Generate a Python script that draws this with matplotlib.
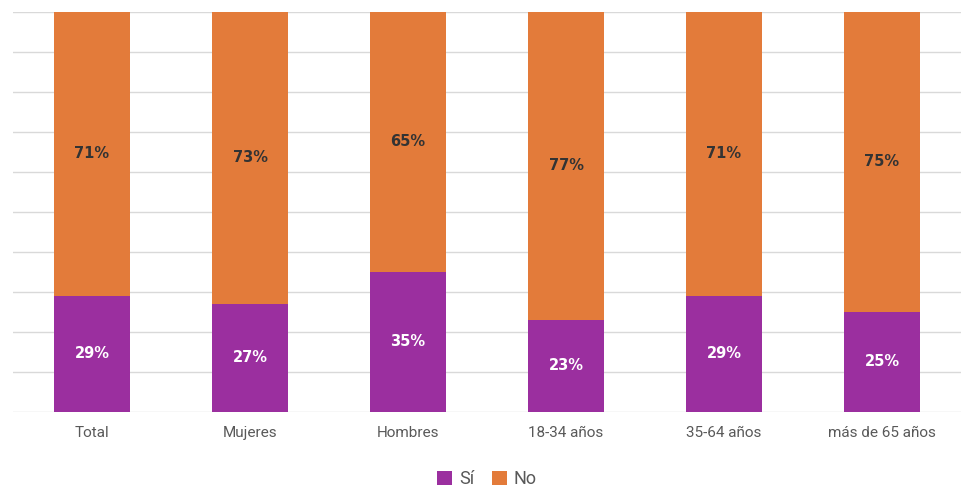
import numpy as np
import matplotlib.pyplot as plt

categorias = ["Total", "Mujeres", "Hombres", "18-34 años", "35-64 años", "más de 65 años"]
si = [29, 27, 35, 23, 29, 25]
no = [71, 73, 65, 77, 71, 75]

color_si = "#9B2F9F"
color_no = "#E37B3A"

fig = plt.figure(figsize=(9.66, 4.92), dpi=100)
ax = fig.add_axes([13 / 966, 80 / 492, 948 / 966, 400 / 492])

x = np.arange(len(categorias))
ancho = 0.475
b1 = ax.bar(x, si, ancho, color=color_si, label="Sí", zorder=2)
b2 = ax.bar(x, no, ancho, bottom=si, color=color_no, label="No", zorder=2)

# etiquetas de porcentaje dentro de cada tramo
for rect, v in zip(b1, si):
    ax.text(rect.get_x() + rect.get_width() / 2, v / 2, f"{v}%", ha="center", va="center",
            color="white", fontsize=10.5, fontweight="bold", family="DejaVu Sans")
for rect, s, v in zip(b2, si, no):
    ax.text(rect.get_x() + rect.get_width() / 2, s + v / 2, f"{v}%", ha="center", va="center",
            color="#333333", fontsize=10.5, fontweight="bold", family="DejaVu Sans")

ax.set_xlim(-0.5, len(categorias) - 0.5)
ax.set_ylim(0, 100)
ax.set_yticks(np.arange(0, 101, 10))
ax.set_yticklabels([])
ax.tick_params(axis="y", length=0)
ax.tick_params(axis="x", length=0, pad=10, labelsize=11, labelcolor="#595959")
ax.set_xticks(x)
ax.set_xticklabels(categorias, family="Roboto")
ax.grid(axis="y", color="#D9D9D9", linewidth=1, zorder=0)
for s in ax.spines.values():
    s.set_visible(False)

ax.legend(loc="upper center", bbox_to_anchor=(0.5, -0.105), ncol=2, frameon=False,
          handlelength=0.8, handleheight=0.8, handletextpad=0.4, columnspacing=1.0,
          prop={"family": "Roboto", "size": 13}, labelcolor="#595959")

fig.savefig("out.png", dpi=100)
